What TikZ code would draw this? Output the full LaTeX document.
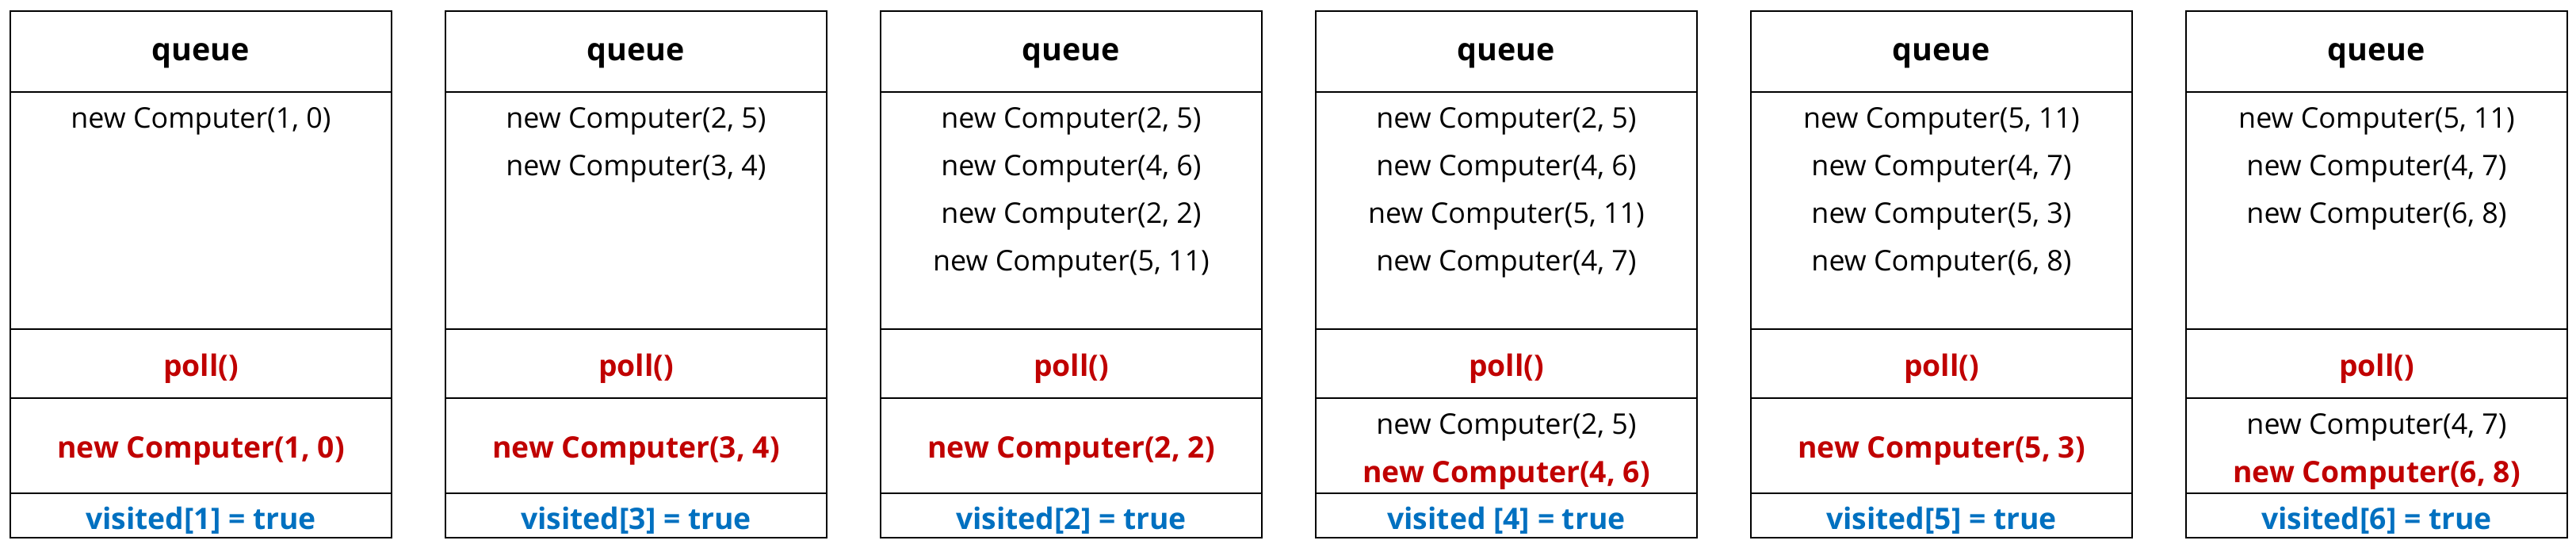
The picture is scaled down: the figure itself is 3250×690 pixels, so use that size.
\documentclass[tikz,border=0pt]{standalone}
\usepackage{fontspec}
\setmainfont{Open Sans}
\definecolor{pollred}{HTML}{C00000}
\definecolor{visitblue}{HTML}{0070C0}
\tikzset{
  qtitle/.style  = {font=\fontsize{11.2}{13}\selectfont\bfseries},
  qitem/.style   = {},
  qcall/.style   = {font=\fontsize{10.6}{12}\selectfont\bfseries, text=pollred},
  qpicked/.style = {font=\fontsize{10.6}{12}\selectfont\bfseries, text=pollred},
  qvisit/.style  = {font=\fontsize{10.6}{12}\selectfont\bfseries, text=visitblue}
}

\begin{document}
\begin{tikzpicture}[x=0.01cm,y=-0.01cm,line width=0.7pt,
                    font=\fontsize{10.2}{12}\selectfont]
\useasboundingbox (0,0) rectangle (3250,690);
\pgfmathsetmacro{\W}{481}   % box width
\pgfmathsetmacro{\D}{549}   % distance from box to box
\pgfmathsetmacro{\h}{60}    % line distance

% one state of the queue
% #1 step, #2 queue contents, #3 line above the polled one, #4 polled one, #5 visited
\newcommand{\queuestate}[5]{%
  \pgfmathsetmacro{\xl}{13+(#1-1)*\D}%
  \pgfmathsetmacro{\xr}{\xl+\W}%
  \pgfmathsetmacro{\xm}{\xl+\W/2}%
  \draw (\xl,14) rectangle (\xr,678);
  \foreach \y in {116,415,502,622}
    \draw (\xl,\y) -- (\xr,\y);
  \node[qtitle] (q#1) at (\xm,70) {queue};
  \foreach \a/\b [count=\i] in {#2}
    \node[qitem] (q#1-\i) at (\xm,{153+(\i-1)*\h}) {new Computer(\a, \b)};
  \node[qcall] (poll#1) at (\xm,465) {poll()};
  \if\relax\detokenize{#3}\relax
    \node[qpicked] (got#1) at (\xm,568) {new Computer(#4)};
  \else
    \node[qitem] (left#1) at (\xm,539) {new Computer(#3)};
    \node[qpicked] (got#1) at (\xm,599) {new Computer(#4)};
  \fi
  \node[qvisit] (vis#1) at (\xm,656) {#5};
}

% states
\queuestate{1}{1/0}{}{1, 0}{visited[1] = true}
\queuestate{2}{2/5,3/4}{}{3, 4}{visited[3] = true}
\queuestate{3}{2/5,4/6,2/2,5/11}{}{2, 2}{visited[2] = true}
\queuestate{4}{2/5,4/6,5/11,4/7}{2, 5}{4, 6}{visited [4] = true}
\queuestate{5}{5/11,4/7,5/3,6/8}{}{5, 3}{visited[5] = true}
\queuestate{6}{5/11,4/7,6/8}{4, 7}{6, 8}{visited[6] = true}
\end{tikzpicture}
\end{document}
